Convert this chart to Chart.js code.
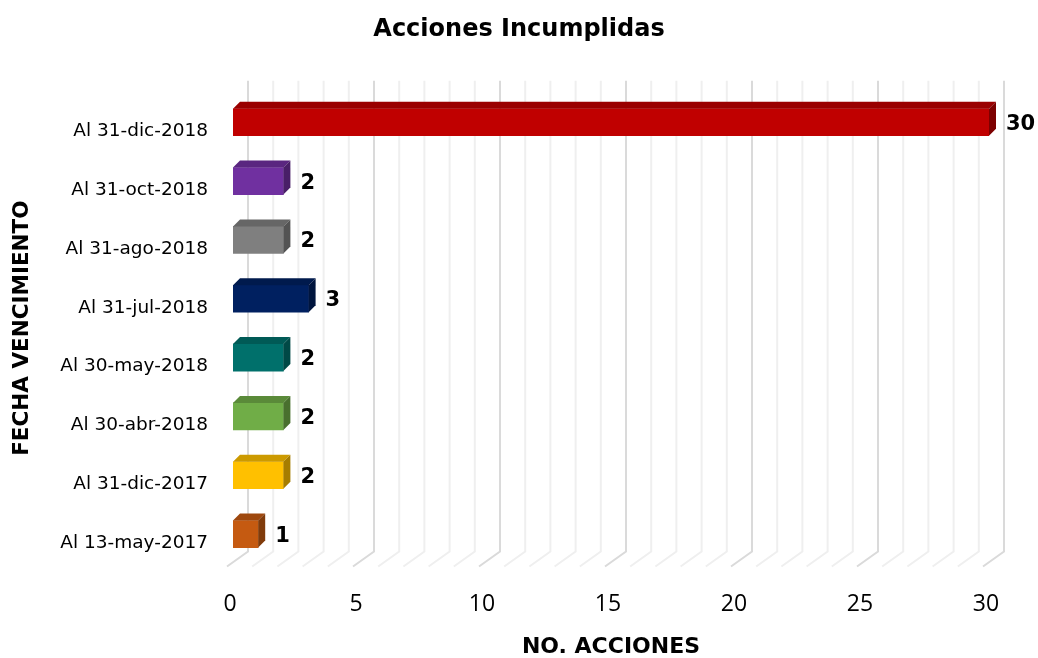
<!DOCTYPE html>
<html>
<head>
<meta charset="utf-8">
<script src="https://cdn.jsdelivr.net/npm/chart.js@4/dist/chart.umd.min.js"></script>
<style>
  html, body { margin: 0; padding: 0; background: #ffffff; }
  #wrap { width: 1038px; height: 658px; }
</style>
</head>
<body>
<div id="wrap"><canvas id="c" width="1038" height="658"></canvas></div>
<script>
const categories = ['Al 31-dic-2018', 'Al 31-oct-2018', 'Al 31-ago-2018', 'Al 31-jul-2018',
                    'Al 30-may-2018', 'Al 30-abr-2018', 'Al 31-dic-2017', 'Al 13-may-2017'];
const values = [30, 2, 2, 3, 2, 2, 2, 1];
const barColors = ['#C00000', '#7030A0', '#7F7F7F', '#002060', '#00706B', '#70AD47', '#FFC000', '#C55A11'];
const xTicks = [0, 5, 10, 15, 20, 25, 30];
const chartTitle = 'Acciones Incumplidas';
const xTitle = 'NO. ACCIONES';
const yTitle = 'FECHA VENCIMIENTO';

function shade(hex, f) {
  const n = parseInt(hex.slice(1), 16);
  const r = Math.round(((n >> 16) & 255) * f);
  const g = Math.round(((n >> 8) & 255) * f);
  const b = Math.round((n & 255) * f);
  return `rgb(${r},${g},${b})`;
}

const DEPTH = 7;

const grid3d = {
  id: 'grid3d',
  beforeDatasetsDraw(chart) {
    const ctx = chart.ctx;
    const xs = chart.scales.x;
    const area = chart.chartArea;
    ctx.save();
    for (let v = 0; v <= 30; v++) {
      const px = xs.getPixelForValue(v);
      const major = v % 5 === 0;
      ctx.strokeStyle = major ? '#dadada' : '#efefef';
      ctx.lineWidth = 2;
      ctx.beginPath();
      ctx.moveTo(px + 15, area.top - 12);
      ctx.lineTo(px + 15, area.bottom - 12);
      ctx.lineTo(px - 6, area.bottom + 3);
      ctx.stroke();
    }
    ctx.restore();
  },
  afterDatasetsDraw(chart) {
    const ctx = chart.ctx;
    const meta = chart.getDatasetMeta(0);
    const d = DEPTH;
    ctx.save();
    meta.data.forEach((bar, i) => {
      const p = bar.getProps(['x', 'y', 'base', 'height'], true);
      const left = p.base, right = p.x;
      const top = p.y - p.height / 2, bottom = p.y + p.height / 2;
      const col = barColors[i];
      ctx.fillStyle = shade(col, 0.8);
      ctx.beginPath();
      ctx.moveTo(left, top);
      ctx.lineTo(left + d, top - d);
      ctx.lineTo(right + d, top - d);
      ctx.lineTo(right, top);
      ctx.closePath();
      ctx.fill();
      ctx.fillStyle = shade(col, 0.65);
      ctx.beginPath();
      ctx.moveTo(right, top);
      ctx.lineTo(right + d, top - d);
      ctx.lineTo(right + d, bottom - d);
      ctx.lineTo(right, bottom);
      ctx.closePath();
      ctx.fill();
      ctx.fillStyle = '#000000';
      ctx.font = 'bold 21px "DejaVu Sans"';
      ctx.textAlign = 'left';
      ctx.textBaseline = 'middle';
      ctx.fillText(String(values[i]), right + d + 10, p.y + 2);
    });
    ctx.restore();
  }
};

new Chart(document.getElementById('c'), {
  type: 'bar',
  data: {
    labels: categories,
    datasets: [{
      data: values,
      backgroundColor: barColors,
      borderWidth: 0,
      barThickness: 27
    }]
  },
  options: {
    indexAxis: 'y',
    responsive: false,
    animation: false,
    devicePixelRatio: 1,
    layout: { padding: { left: 0, right: 0, top: 0, bottom: 0 } },
    plugins: {
      legend: { display: false },
      tooltip: { enabled: false },
      title: {
        display: true,
        text: chartTitle,
        color: '#000000',
        font: { family: 'DejaVu Sans', size: 24, weight: 'bold', lineHeight: 1.2 },
        padding: { top: 15, bottom: 49 }
      }
    },
    scales: {
      x: {
        min: 0,
        max: 30,
        afterBuildTicks(scale) { scale.ticks = xTicks.map(v => ({ value: v })); },
        afterFit(scale) { scale.height = 94.5; scale.paddingRight = 49; },
        grid: { display: false, drawTicks: false },
        border: { display: false },
        ticks: {
          color: '#000000',
          font: { family: 'Open Sans', size: 23 },
          padding: 27,
          labelOffset: -3,
          maxRotation: 0
        },
        title: {
          display: true,
          text: xTitle,
          color: '#000000',
          font: { family: 'DejaVu Sans', size: 22, weight: 'bold', lineHeight: 1.0 },
          padding: { top: 0, bottom: 0 }
        }
      },
      y: {
        afterFit(scale) { scale.width = 233; },
        grid: { display: false, drawTicks: false },
        border: { display: false },
        ticks: {
          color: '#000000',
          font: { family: 'DejaVu Sans', size: 18.5 },
          padding: 25,
          labelOffset: 9
        },
        title: {
          display: true,
          text: yTitle,
          color: '#000000',
          font: { family: 'DejaVu Sans', size: 21.5, weight: 'bold', lineHeight: 1.2 },
          padding: { top: 10, bottom: 0 }
        }
      }
    }
  },
  plugins: [grid3d]
});
</script>
</body>
</html>
